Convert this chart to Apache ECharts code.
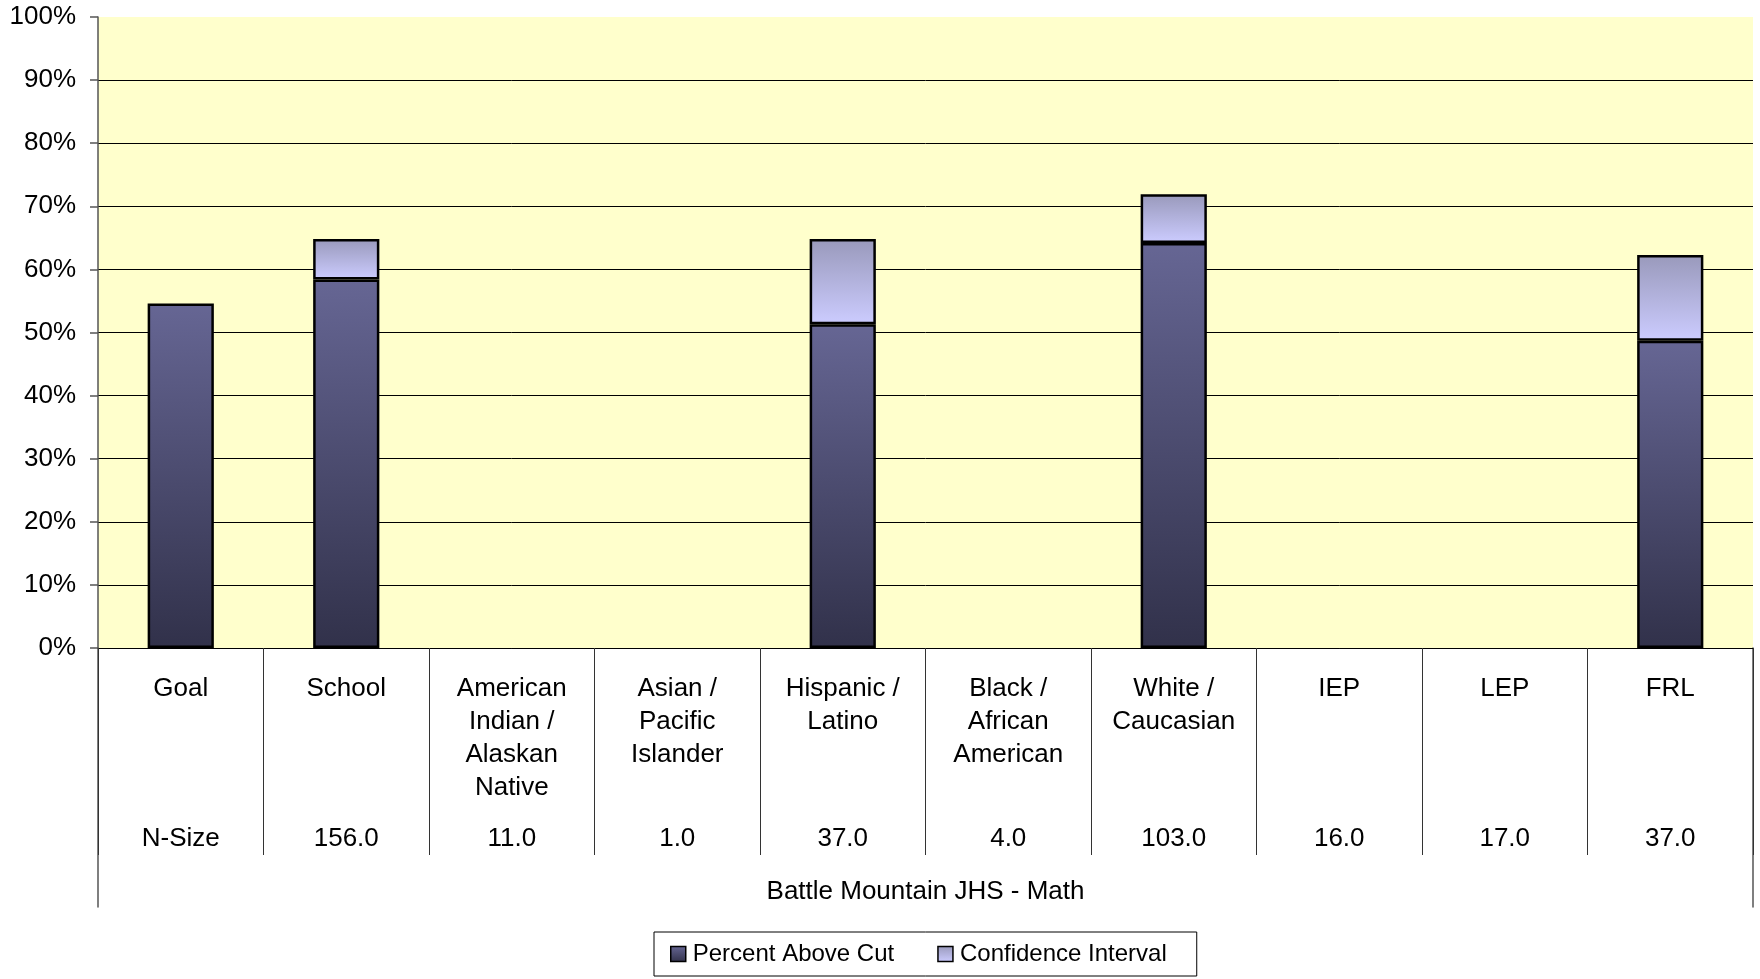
<!DOCTYPE html>
<html>
<head>
<meta charset="utf-8">
<script src="https://cdn.jsdelivr.net/npm/echarts@6/dist/echarts.min.js"></script>
<style>
html,body{margin:0;padding:0;background:#fff;}
#chart{width:1760px;height:979px;}
</style>
</head>
<body>
<div id="chart"></div>
<script>
// ---- data ----
const categories = ["Goal", "School", "American\nIndian /\nAlaskan\nNative", "Asian /\nPacific\nIslander", "Hispanic /\nLatino", "Black /\nAfrican\nAmerican", "White /\nCaucasian", "IEP", "LEP", "FRL"];
const nSizeLabels = ["N-Size", "156.0", "11.0", "1.0", "37.0", "4.0", "103.0", "16.0", "17.0", "37.0"];
const percentAboveCut = [54.6, 58.4, null, null, 51.3, null, 64.2, null, null, 48.7];
const confidenceUpper = [null, 64.8, null, null, 64.8, null, 71.9, null, null, 62.3];
const yTicks = [0, 100, 10];
const xTitle = "Battle Mountain JHS - Math";
const seriesNames = ["Percent Above Cut", "Confidence Interval"];

const ciSegment = confidenceUpper.map((u, i) => (u == null || percentAboveCut[i] == null) ? null : +(u - percentAboveCut[i]).toFixed(1));

const FONT = "'Liberation Sans', Arial, sans-serif";
const chart = echarts.init(document.getElementById('chart'), null, {renderer: 'canvas'});

const pacGrad = new echarts.graphic.LinearGradient(0, 0, 0, 1, [
  {offset: 0, color: '#666694'}, {offset: 1, color: '#31314a'}
]);
const ciGrad = new echarts.graphic.LinearGradient(0, 0, 0, 1, [
  {offset: 0, color: '#9999bb'}, {offset: 1, color: '#ccccff'}
]);

const option = {
  animation: false,
  textStyle: {fontFamily: FONT},
  grid: [
    {left: 98, right: 7, top: 17, bottom: 331, show: true, backgroundColor: '#ffffcc', borderWidth: 0},
    {left: 98, right: 7, top: 648, bottom: 72, show: false}
  ],
  legend: {
    left: 654, top: 932,
    orient: 'horizontal',
    data: seriesNames,
    icon: 'rect',
    itemWidth: 15, itemHeight: 15,
    itemGap: 43,
    padding: [10, 30, 10, 16],
    borderColor: '#000', borderWidth: 1,
    backgroundColor: '#fff',
    textStyle: {color: '#000', fontSize: 24, fontFamily: FONT, padding: [0, 0, 0, 2]},
    itemStyle: {borderColor: '#000', borderWidth: 1.5},
    selectedMode: false
  },
  xAxis: [
    {
      type: 'category', gridIndex: 0, data: categories, position: 'bottom',
      boundaryGap: true,
      axisLine: {show: true, lineStyle: {color: '#000', width: 1}},
      axisTick: {show: true, interval: 0, length: 207, alignWithLabel: false, lineStyle: {color: '#333', width: 1}},
      axisLabel: {interval: 0, margin: 24, color: '#000', fontSize: 26, lineHeight: 33, fontFamily: FONT, align: 'center'},
      splitLine: {show: false},
      name: xTitle, nameLocation: 'middle', nameGap: 231,
      nameTextStyle: {color: '#000', fontSize: 26, fontFamily: FONT}
    },
    {
      type: 'category', gridIndex: 0, data: nSizeLabels, position: 'bottom', offset: 0,
      axisLine: {show: false}, axisTick: {show: false}, splitLine: {show: false},
      axisLabel: {interval: 0, margin: 174, color: '#000', fontSize: 26, lineHeight: 33, fontFamily: FONT}
    },
    {type: 'value', gridIndex: 1, min: 0, max: 1, show: false}
  ],
  yAxis: [
    {
      type: 'value', gridIndex: 0, min: yTicks[0], max: yTicks[1], interval: yTicks[2],
      axisLine: {show: true, lineStyle: {color: '#555', width: 1.5}},
      axisTick: {show: true, length: 8, lineStyle: {color: '#555', width: 1.5}},
      axisLabel: {formatter: '{value}%', margin: 22, color: '#000', fontSize: 26, fontFamily: FONT},
      splitLine: {show: true, showMaxLine: false, lineStyle: {color: '#000', width: 1}}
    },
    {
      type: 'value', gridIndex: 1, min: 0, max: 1, position: 'left',
      axisLine: {show: true, lineStyle: {color: '#555', width: 1.5}},
      axisTick: {show: false}, axisLabel: {show: false}, splitLine: {show: false}
    },
    {
      type: 'value', gridIndex: 1, min: 0, max: 1, position: 'right',
      axisLine: {show: true, lineStyle: {color: '#555', width: 1.5}},
      axisTick: {show: false}, axisLabel: {show: false}, splitLine: {show: false}
    }
  ],
  series: [
    {
      name: seriesNames[0], type: 'bar', stack: 'total', xAxisIndex: 0, yAxisIndex: 0,
      data: percentAboveCut, barWidth: '40%',
      itemStyle: {color: pacGrad, borderColor: '#000', borderWidth: 2.5}
    },
    {
      name: seriesNames[1], type: 'bar', stack: 'total', xAxisIndex: 0, yAxisIndex: 0,
      data: ciSegment, barWidth: '40%',
      itemStyle: {color: ciGrad, borderColor: '#000', borderWidth: 2.5}
    }
  ]
};
chart.setOption(option);
</script>
</body>
</html>
